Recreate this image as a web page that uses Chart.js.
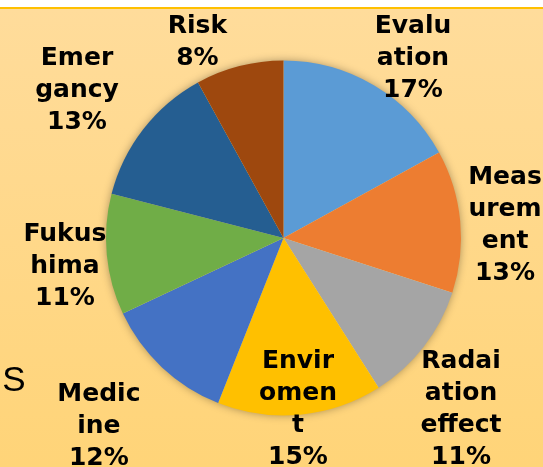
<!DOCTYPE html>
<html>
<head>
<meta charset="utf-8">
<script src="https://cdn.jsdelivr.net/npm/chart.js@4/dist/chart.umd.min.js"></script>
<style>
  html, body { margin: 0; padding: 0; background: #fff; }
  canvas { display: block; }
</style>
</head>
<body>
<canvas id="chart" width="543" height="467"></canvas>
<script>
// Data
const categories = [
  "Evaluation",
  "Measurement",
  "Radaiation effect",
  "Enviroment",
  "Medicine",
  "Fukushima",
  "Emergancy",
  "Risk",
];
const values = [17, 13, 11, 15, 12, 11, 13, 8];
const sliceColors = [
  "#5B9BD5",
  "#ED7D31",
  "#A5A5A5",
  "#FFC000",
  "#4472C4",
  "#70AD47",
  "#255E91",
  "#9E480E",
];

// Label placement, like Excel's "best fit": [distance / radius, angle shift in degrees]
const labelPlacement = [
  [1.259, 4.8],
  [1.251, 1.5],
  [1.381, 5.8],
  [0.955, 0.5],
  [1.476, 1.6],
  [1.24, -1.4],
  [1.438, -1.8],
  [1.216, -9.1],
];

const LABEL_FONT = "bold 25px 'DejaVu Sans'";
const LINE_HEIGHT = 32;
const WRAP_WIDTH = 87;

function wrapLabel(ctx, text) {
  // break the label like Excel does: by words, then by characters when a word is too wide
  const lines = [];
  let line = "";
  text.split(" ").forEach((word) => {
    const candidate = line ? line + " " + word : word;
    if (line && ctx.measureText(candidate).width <= WRAP_WIDTH) {
      line = candidate;
      return;
    }
    if (line) lines.push(line);
    line = "";
    for (const ch of word) {
      if (line && ctx.measureText(line + ch).width > WRAP_WIDTH) {
        lines.push(line);
        line = ch;
      } else {
        line += ch;
      }
    }
  });
  if (line) lines.push(line);
  return lines;
}

const backgroundPlugin = {
  id: "background",
  beforeDraw(chart) {
    const ctx = chart.ctx;
    const w = chart.width;
    const h = chart.height;
    ctx.save();
    ctx.fillStyle = "#ffffff";
    ctx.fillRect(0, 0, w, h);
    const grad = ctx.createLinearGradient(0, 9, 0, h);
    grad.addColorStop(0, "#FFDC9B");
    grad.addColorStop(1, "#FFD478");
    ctx.fillStyle = grad;
    ctx.fillRect(0, 9, w, h - 9);
    ctx.fillStyle = "#FFC000";
    ctx.fillRect(0, 7, w, 2);

    // stray "S" on the left edge of the picture
    ctx.fillStyle = "#000000";
    ctx.font = "35px 'Liberation Sans'";
    ctx.textAlign = "center";
    ctx.textBaseline = "alphabetic";
    ctx.fillText("S", 14, 391);
    ctx.restore();
  },
};

const shadowPlugin = {
  id: "pieShadow",
  beforeDatasetsDraw(chart) {
    const arc = chart.getDatasetMeta(0).data[0];
    if (!arc) return;
    const ctx = chart.ctx;
    ctx.save();
    ctx.shadowColor = "rgba(0, 0, 0, 0.4)";
    ctx.shadowBlur = 10;
    ctx.fillStyle = "#FFD88A";
    ctx.beginPath();
    ctx.arc(arc.x, arc.y, arc.outerRadius - 1, 0, Math.PI * 2);
    ctx.fill();
    ctx.restore();
  },
};

const labelPlugin = {
  id: "sliceLabels",
  afterDatasetsDraw(chart) {
    const ctx = chart.ctx;
    const meta = chart.getDatasetMeta(0);
    const total = values.reduce((a, b) => a + b, 0);
    ctx.save();
    ctx.font = LABEL_FONT;
    ctx.fillStyle = "#000000";
    ctx.textAlign = "center";
    ctx.textBaseline = "alphabetic";
    meta.data.forEach((arc, i) => {
      const [dist, shift] = labelPlacement[i];
      const mid = (arc.startAngle + arc.endAngle) / 2 + (shift * Math.PI) / 180;
      const cx = arc.x + Math.cos(mid) * arc.outerRadius * dist;
      const cy = arc.y + Math.sin(mid) * arc.outerRadius * dist;
      const lines = wrapLabel(ctx, categories[i]);
      lines.push(Math.round((values[i] / total) * 100) + "%");
      lines.forEach((text, k) => {
        const lineY = cy + (k - (lines.length - 1) / 2) * LINE_HEIGHT;
        ctx.fillText(text, cx, lineY + 9);
      });
    });
    ctx.restore();
  },
};

new Chart(document.getElementById("chart"), {
  type: "pie",
  data: {
    labels: categories,
    datasets: [
      {
        data: values,
        backgroundColor: sliceColors,
        borderWidth: 0,
        hoverOffset: 0,
      },
    ],
  },
  options: {
    responsive: false,
    animation: false,
    events: [],
    layout: {
      padding: { left: 106, right: 82, top: 60.5, bottom: 51.5 },
    },
    plugins: {
      legend: { display: false },
      tooltip: { enabled: false },
    },
  },
  plugins: [backgroundPlugin, shadowPlugin, labelPlugin],
});
</script>
</body>
</html>
